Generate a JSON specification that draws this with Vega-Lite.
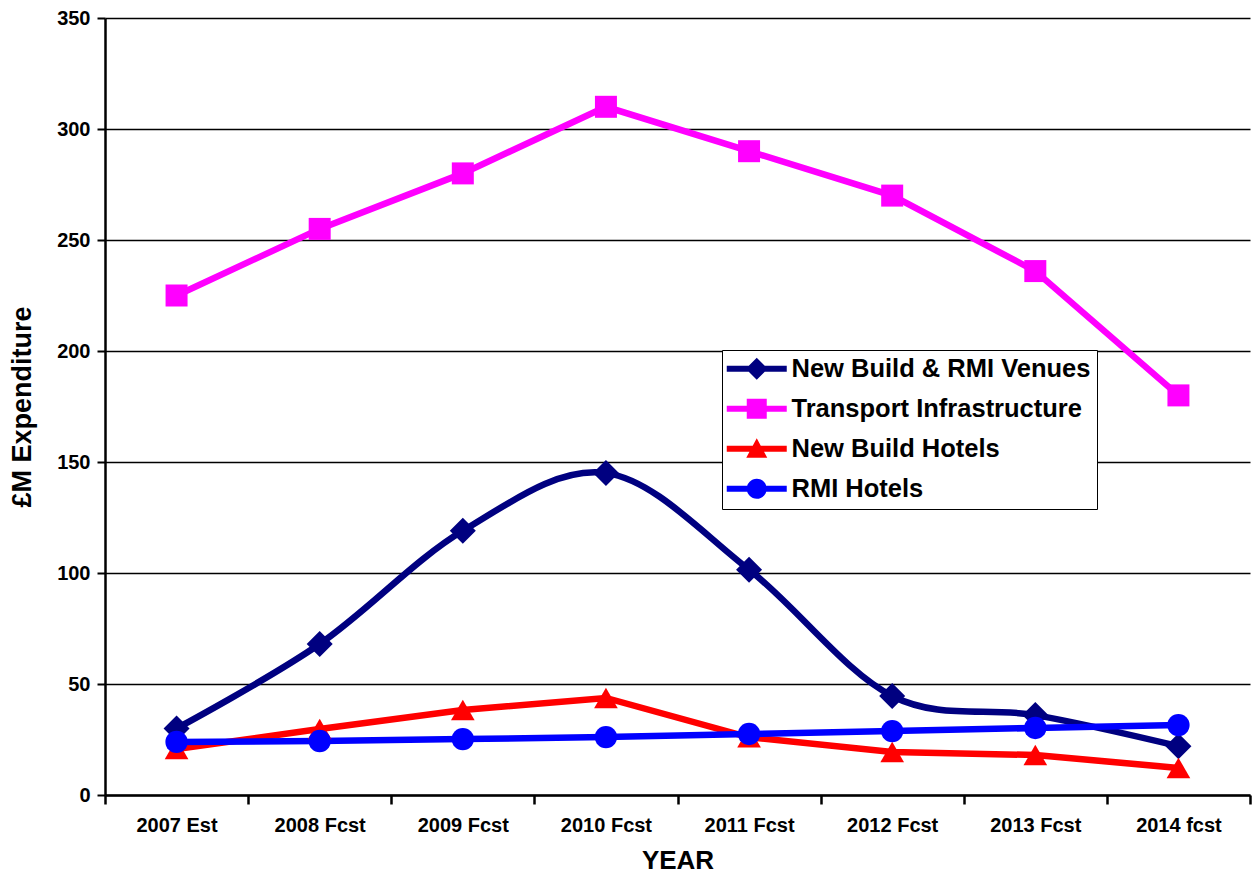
{
  "$schema": "https://vega.github.io/schema/vega-lite/v6.json",
  "width": 1145,
  "height": 777,
  "autosize": {"type": "none"},
  "padding": {"left": 105, "top": 18, "right": 3, "bottom": 85},
  "background": "white",
  "config": {
    "font": "Liberation Sans",
    "view": {"stroke": null},
    "axis": {"labelFont": "Liberation Sans", "titleFont": "Liberation Sans", "labelFontWeight": "bold", "titleFontWeight": "bold", "labelColor": "black", "titleColor": "black", "domainColor": "black", "tickColor": "black"}
  },
  "datasets": {
    "main": [
      {"year": "2007 Est", "series": "New Build & RMI Venues", "value": 30},
      {"year": "2008 Fcst", "series": "New Build & RMI Venues", "value": 68},
      {"year": "2009 Fcst", "series": "New Build & RMI Venues", "value": 119},
      {"year": "2010 Fcst", "series": "New Build & RMI Venues", "value": 145},
      {"year": "2011 Fcst", "series": "New Build & RMI Venues", "value": 101.5},
      {"year": "2012 Fcst", "series": "New Build & RMI Venues", "value": 44.6},
      {"year": "2013 Fcst", "series": "New Build & RMI Venues", "value": 36},
      {"year": "2014 fcst", "series": "New Build & RMI Venues", "value": 22},
      {"year": "2007 Est", "series": "Transport Infrastructure", "value": 225},
      {"year": "2008 Fcst", "series": "Transport Infrastructure", "value": 255},
      {"year": "2009 Fcst", "series": "Transport Infrastructure", "value": 280},
      {"year": "2010 Fcst", "series": "Transport Infrastructure", "value": 310},
      {"year": "2011 Fcst", "series": "Transport Infrastructure", "value": 290},
      {"year": "2012 Fcst", "series": "Transport Infrastructure", "value": 270},
      {"year": "2013 Fcst", "series": "Transport Infrastructure", "value": 236},
      {"year": "2014 fcst", "series": "Transport Infrastructure", "value": 180},
      {"year": "2007 Est", "series": "New Build Hotels", "value": 20.7},
      {"year": "2008 Fcst", "series": "New Build Hotels", "value": 29.7},
      {"year": "2009 Fcst", "series": "New Build Hotels", "value": 38.3},
      {"year": "2010 Fcst", "series": "New Build Hotels", "value": 43.7},
      {"year": "2011 Fcst", "series": "New Build Hotels", "value": 26},
      {"year": "2012 Fcst", "series": "New Build Hotels", "value": 19.4},
      {"year": "2013 Fcst", "series": "New Build Hotels", "value": 18},
      {"year": "2014 fcst", "series": "New Build Hotels", "value": 12.2},
      {"year": "2007 Est", "series": "RMI Hotels", "value": 23.9},
      {"year": "2008 Fcst", "series": "RMI Hotels", "value": 24.3},
      {"year": "2009 Fcst", "series": "RMI Hotels", "value": 25.2},
      {"year": "2010 Fcst", "series": "RMI Hotels", "value": 26.1},
      {"year": "2011 Fcst", "series": "RMI Hotels", "value": 27.5},
      {"year": "2012 Fcst", "series": "RMI Hotels", "value": 28.8},
      {"year": "2013 Fcst", "series": "RMI Hotels", "value": 30.2},
      {"year": "2014 fcst", "series": "RMI Hotels", "value": 31.5}
    ]
  },
  "data": {"name": "main"},
  "encoding": {
    "x": {
      "field": "year", "type": "ordinal", "sort": null,
      "scale": {"type": "band", "paddingInner": 0, "paddingOuter": 0},
      "axis": {"title": "YEAR", "labelAngle": 0, "labelFontSize": 20, "titleFontSize": 26, "tickBand": "extent", "tickSize": 9, "tickWidth": 2.5, "domainWidth": 2.5, "labelPadding": 11, "titlePadding": 12, "grid": false}
    },
    "y": {
      "field": "value", "type": "quantitative",
      "scale": {"domain": [0, 350], "nice": false, "zero": true},
      "axis": {"title": "£M Expenditure", "values": [0, 50, 100, 150, 200, 250, 300, 350], "labelFontSize": 20, "titleFontSize": 27, "tickSize": 8, "tickWidth": 2, "domainWidth": 2.5, "labelPadding": 7, "titlePadding": 20, "grid": true, "gridColor": "black", "gridWidth": 1.6, "gridOpacity": 1}
    },
    "color": {
      "field": "series", "type": "nominal",
      "scale": {"domain": ["New Build & RMI Venues", "Transport Infrastructure", "New Build Hotels", "RMI Hotels"], "range": ["#000080", "#FF00FF", "#FF0000", "#0000FF"]},
      "legend": {
        "title": null,
        "orient": "none",
        "legendX": 617,
        "legendY": 332,
        "direction": "vertical",
        "fillColor": "white",
        "strokeColor": "black",
        "padding": 6,
        "labelFont": "Liberation Sans",
        "labelFontWeight": "bold",
        "labelFontSize": 25.5,
        "labelColor": "black",
        "labelLimit": 400,
        "labelOffset": 38,
        "rowPadding": 13,
        "symbolSize": 100,
        "symbolStrokeWidth": 0,
        "symbolOpacity": 1
      }
    }
  },
  "layer": [
    {
      "transform": [{"filter": "datum.series === 'New Build & RMI Venues'"}],
      "mark": {"type": "line", "interpolate": "cardinal", "strokeWidth": 6.5}
    },
    {
      "transform": [{"filter": "datum.series !== 'New Build & RMI Venues'"}],
      "mark": {"type": "line", "strokeWidth": 6.5}
    },
    {
      "transform": [{"filter": "datum.series === 'New Build & RMI Venues'"}],
      "mark": {"type": "point", "shape": "diamond", "size": 676, "filled": true, "opacity": 1, "strokeWidth": 0}
    },
    {
      "transform": [{"filter": "datum.series === 'Transport Infrastructure'"}],
      "mark": {"type": "point", "shape": "square", "size": 484, "filled": true, "opacity": 1, "strokeWidth": 0}
    },
    {
      "transform": [{"filter": "datum.series === 'New Build Hotels'"}],
      "mark": {"type": "point", "shape": "triangle-up", "size": 560, "filled": true, "opacity": 1, "strokeWidth": 0}
    },
    {
      "transform": [{"filter": "datum.series === 'RMI Hotels'"}],
      "mark": {"type": "point", "shape": "circle", "size": 500, "filled": true, "opacity": 1, "strokeWidth": 0}
    },
    {
      "transform": [{"filter": "datum.value < 0"}],
      "mark": {"type": "point", "filled": true, "opacity": 1, "strokeWidth": 0},
      "encoding": {
        "shape": {
          "field": "series", "type": "nominal",
          "scale": {
            "domain": ["New Build & RMI Venues", "Transport Infrastructure", "New Build Hotels", "RMI Hotels"],
            "range": [
              "M-2.8,-0.6H9.2V0.6H-2.8Z M3.2,-2.2L5.4,0L3.2,2.2L1,0Z",
              "M-2.8,-0.6H9.2V0.6H-2.8Z M1.2,-2H5.2V2H1.2Z",
              "M-2.8,-0.6H9.2V0.6H-2.8Z M3.2,-2.1L5.3,1.8L1.1,1.8Z",
              "M-2.8,-0.6H9.2V0.6H-2.8Z M1.2,0A2,2 0 1,1 5.2,0A2,2 0 1,1 1.2,0Z"
            ]
          },
          "legend": {
            "title": null,
            "orient": "none",
            "legendX": 617,
            "legendY": 332,
            "direction": "vertical",
            "fillColor": "white",
            "strokeColor": "black",
            "padding": 6,
            "labelFont": "Liberation Sans",
            "labelFontWeight": "bold",
            "labelFontSize": 25.5,
            "labelColor": "black",
            "labelLimit": 400,
            "labelOffset": 38,
            "rowPadding": 13,
            "symbolSize": 100,
            "symbolStrokeWidth": 0,
            "symbolOpacity": 1
          }
        }
      }
    }
  ]
}
